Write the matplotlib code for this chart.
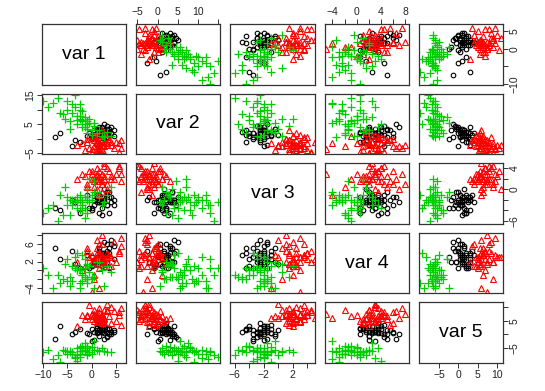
import numpy as np
import matplotlib
matplotlib.use("Agg")
import matplotlib.pyplot as plt

plt.rcParams['font.family'] = ['Liberation Sans', 'DejaVu Sans']

var_names = ['var 1', 'var 2', 'var 3', 'var 4', 'var 5']

# each row: var1, var2, var3, var4, var5
black_pts = [
    [1.5, 2.0, -2.0, 3.0, 1.0], [2.0, 1.0, -1.5, 2.5, 1.5], [2.5, 3.0, -2.5, 4.0, 0.5],
    [3.0, 2.5, -1.0, 3.5, 2.0], [0.5, 1.5, -3.0, 2.0, 1.0], [1.0, 0.5, -2.0, 1.5, 2.5],
    [3.5, 3.5, -0.5, 5.0, 0.0], [2.0, 2.0, -3.5, 3.0, 1.5], [1.5, 4.0, -2.5, 2.0, -0.5],
    [4.0, 2.0, -1.5, 6.0, 1.0], [2.5, 0.0, -2.0, 3.5, 3.0], [0.0, 1.0, -4.0, 1.0, 2.0],
    [3.0, 4.5, -3.0, 4.5, -1.0], [1.0, 2.5, -1.0, 2.5, 0.5], [2.0, -1.0, -2.5, 1.0, 2.5],
    [4.5, 3.0, -2.0, 5.5, 1.5], [-0.5, 2.0, -3.5, 0.5, 0.0], [3.5, 1.5, -4.5, 4.0, 2.0],
    [2.5, 5.0, -1.5, 6.5, -1.5], [1.0, 3.5, -2.5, 3.0, 1.0], [-6.5, 2.0, -4.0, 2.5, 3.0],
    [-2.5, -1.0, -4.5, 0.5, 2.0], [-3.5, -0.5, -2.5, 1.5, 1.0], [1.5, 1.5, -1.0, 4.5, 3.5],
    [0.5, 3.0, -2.0, 2.0, -2.0], [3.0, 0.5, -3.0, 6.0, 0.5], [2.0, 2.5, -5.0, 3.5, 1.0],
    [1.0, -2.0, -1.5, 2.0, 3.0], [4.0, 4.0, -2.5, 7.0, 0.0], [2.5, 1.5, 0.0, 1.5, 1.5],
    [0.0, 0.0, -3.5, 3.0, -2.5], [3.5, 2.5, -1.5, 0.5, 2.5], [1.5, 3.0, -4.5, 5.0, 1.5],
    [2.0, 4.0, -2.0, 4.0, 3.0], [-1.0, 1.0, -1.0, 3.5, 0.5], [4.5, 1.0, -3.0, 2.5, 1.0],
    [-7.5, 0.5, -3.5, 5.0, -1.5], [-4.0, -2.5, -2.0, 4.5, 0.0], [2.0, 2.0, -2.5, 3.5, 4.0],
    [3.0, 3.5, -0.5, 2.0, -0.5],
]

red_pts = [
    [1.0, -1.0, 2.0, 2.5, 8.0], [2.0, -2.0, 3.0, 3.0, 5.0], [0.5, -0.5, 1.5, 1.5, 7.5],
    [1.5, -3.0, 2.5, 4.0, 6.0], [3.0, -1.5, 1.0, 2.0, 9.0], [0.0, 0.5, 3.5, 3.5, 5.5],
    [2.5, -2.5, 2.0, 1.0, 4.5], [-1.0, -1.0, 0.5, 5.0, 6.5], [1.0, -4.0, 4.0, 2.5, 7.0],
    [4.0, -2.0, 2.5, 3.0, 10.0], [2.0, 0.0, 1.0, 6.0, 4.0], [-2.0, -1.5, 3.0, 0.0, 7.0],
    [1.5, -3.5, 1.5, 3.5, 9.5], [5.0, -1.0, 3.0, 2.0, 5.0], [0.5, 1.0, 2.0, -1.0, 6.5],
    [5.5, -4.5, 4.5, 4.5, 8.0], [1.0, -2.5, 0.0, 7.0, 6.0], [2.5, 2.0, 2.5, 1.5, 5.5],
    [-0.5, -3.0, 3.5, 3.0, 10.5], [6.0, -0.5, 1.5, 5.5, 3.5], [1.5, -1.5, -1.0, -4.0, 6.0],
    [0.0, -5.0, 2.0, 2.0, 7.5], [3.0, 0.5, 4.0, 4.0, 8.5], [2.0, -2.0, 1.0, 8.0, 7.5],
    [-1.5, -4.0, 2.5, 1.0, 5.5], [1.0, 1.5, 3.0, 3.0, 4.5], [4.5, -3.0, 2.0, 6.5, 8.5],
    [2.5, -1.0, 5.0, 2.5, 6.0], [0.5, -2.5, 0.5, -2.0, 9.0], [3.5, 0.0, 3.5, 3.5, 6.5],
    [1.5, -4.5, 1.5, 0.5, 5.0], [-3.0, -2.0, 2.0, 2.0, 3.0], [5.5, -1.5, 4.0, 4.0, 7.0],
    [2.0, 3.0, 1.5, 1.5, 6.0], [1.0, -0.5, 2.5, 5.0, 5.5], [0.0, -3.5, 3.0, -5.0, 7.5],
    [3.0, -2.0, 0.0, 3.0, 11.0], [2.5, -5.0, 4.5, 2.0, 9.0], [-1.0, 0.0, 1.0, 4.5, 7.0],
    [4.0, -1.0, 2.0, 1.0, 4.0], [1.5, -2.5, 3.5, 6.0, 8.0], [0.5, 1.0, 2.0, 2.5, 5.0],
    [2.0, -4.0, -0.5, 3.5, 6.5], [6.0, -3.0, 3.0, 7.5, 9.5], [1.0, -1.5, 1.5, 4.0, 6.5],
]

green_pts = [
    [-2.0, 6.0, -2.0, -1.0, -6.0], [-3.0, 8.0, -2.5, 0.0, -5.0], [-1.0, 5.0, -1.5, -2.0, -7.0],
    [-4.0, 9.0, -3.0, 1.0, -6.5], [0.0, 3.0, -1.0, -1.5, -4.5], [-2.5, 7.0, -2.0, -3.0, -8.0],
    [-1.5, 4.0, -3.5, 0.5, -6.0], [-5.0, 10.0, -1.5, -2.5, -7.0], [1.0, 2.0, -0.5, 2.0, -5.5],
    [-2.0, 6.5, -4.0, -1.0, -4.0], [-3.5, 11.0, -2.0, 3.0, -8.5], [-0.5, 5.5, -2.5, -0.5, -6.5],
    [-6.0, 8.5, -5.0, -2.0, -5.5], [-1.0, 3.5, 0.0, 1.5, -7.5], [-2.5, 12.0, -1.0, -4.0, -6.0],
    [2.0, 1.0, -3.0, 0.0, -5.0], [-4.5, 6.0, -2.0, -3.5, -6.5], [-1.5, 7.5, -1.5, 2.5, -3.0],
    [-10.0, 13.0, -4.5, 0.5, -6.5], [0.5, 4.5, 1.5, -1.5, -5.5], [-3.0, 5.0, -3.5, 4.0, -9.5],
    [-2.0, 9.5, -2.5, -2.5, -6.0], [3.0, 2.5, -1.0, 1.0, -6.5], [-7.0, 14.0, -6.0, -1.0, -7.5],
    [-1.0, 6.0, -2.0, -3.0, -5.0], [-5.5, 7.0, 0.5, 1.5, -6.0], [0.0, 1.5, -2.0, -2.0, -7.0],
    [-2.5, 8.0, -4.0, 0.0, -4.5], [-8.0, 12.5, -3.0, -4.0, -9.0], [1.5, 3.0, -1.5, 2.0, -6.0],
    [-1.5, 5.0, -5.5, -1.5, -5.5], [-3.5, 15.0, -2.5, 0.5, -8.0], [4.0, 1.0, 0.5, -0.5, -6.5],
    [-6.5, 9.0, -1.0, -3.0, -10.0], [-2.0, 4.0, -3.0, 3.5, -5.0], [-4.0, 12.0, -2.0, -2.5, -7.0],
    [-0.5, 7.0, 2.0, 1.0, -6.5], [-9.0, 11.0, -3.5, -1.0, -5.5], [2.5, 0.5, -2.5, -3.5, -6.0],
    [-3.0, 6.5, -1.5, 0.0, -7.5], [-1.0, 2.0, -4.5, -2.0, -4.0], [-5.0, 13.0, -3.0, 2.5, -6.0],
    [0.5, 5.5, -0.5, -4.0, -2.5], [-2.5, 10.0, -2.0, 0.5, -7.0], [-4.5, 3.5, -5.0, -1.5, -6.0],
]

# axis limits, ticks and which tick labels are printed (x side / y side)
var_lims = [(-10.2, 7.0), (-5.3, 15.6), (-6.6, 5.0), (-5.3, 8.6), (-10.3, 11.6)]
var_ticks = [[-10, -5, 0, 5], [-5, 0, 5, 10, 15], [-6, -4, -2, 0, 2, 4],
             [-4, -2, 0, 2, 4, 6, 8], [-5, 0, 5, 10]]
x_labels = [[-10, -5, 0, 5], [-5, 0, 5, 10], [-6, -2, 2], [-4, 0, 4, 8], [-5, 0, 5, 10]]
y_labels = [[-10, 0, 5], [-5, 5, 15], [-6, 0, 4], [-4, 2, 6], [-5, 5]]

groups = [
    (np.array(black_pts), dict(marker='o', ms=3.3, mfc='none', mec='black', mew=0.8)),
    (np.array(red_pts), dict(marker='^', ms=3.8, mfc='none', mec='#FF0000', mew=0.8)),
    (np.array(green_pts), dict(marker='+', ms=5.5, mec='#00CD00', mew=0.9)),
]

fig, axes = plt.subplots(5, 5, figsize=(5.45, 3.91), dpi=100)
plt.subplots_adjust(left=42/545, right=503/545, top=1-24/391, bottom=1-363/391,
                    wspace=10/84, hspace=9/61)

def lbl(v, shown):
    return str(v).replace('-', '\u2212') if v in shown else ''

for i in range(5):
    for j in range(5):
        ax = axes[i, j]
        ax.set_xlim(var_lims[j])
        ax.set_ylim(var_lims[i])
        for s in ax.spines.values():
            s.set_color('#333333')
            s.set_linewidth(0.9)
        if i == j:
            ax.text(0.5, 0.5, var_names[i], transform=ax.transAxes,
                    ha='center', va='center', fontsize=14)
        else:
            for pts, st in groups:
                ax.plot(pts[:, j], pts[:, i], ls='none', **st)
        ax.tick_params(which='both', direction='out', length=3.5, width=0.7,
                       labelsize=7.5, pad=1.5, colors='#333333', labelcolor='#222222',
                       bottom=False, top=False, left=False, right=False,
                       labelbottom=False, labeltop=False, labelleft=False, labelright=False)
        # x axis: bottom row for odd vars, top row for even vars (R pairs layout)
        if i == 4 and j % 2 == 0:
            ax.set_xticks(var_ticks[j])
            ax.set_xticklabels([lbl(v, x_labels[j]) for v in var_ticks[j]])
            ax.tick_params(axis='x', bottom=True, labelbottom=True)
        elif i == 0 and j % 2 == 1:
            ax.set_xticks(var_ticks[j])
            ax.set_xticklabels([lbl(v, x_labels[j]) for v in var_ticks[j]])
            ax.tick_params(axis='x', top=True, labeltop=True)
        else:
            ax.set_xticks([])
        if j == 0 and i % 2 == 1:
            ax.set_yticks(var_ticks[i])
            ax.set_yticklabels([lbl(v, y_labels[i]) for v in var_ticks[i]],
                               rotation=90, va='center')
            ax.tick_params(axis='y', left=True, labelleft=True)
        elif j == 4 and i % 2 == 0:
            ax.set_yticks(var_ticks[i])
            ax.set_yticklabels([lbl(v, y_labels[i]) for v in var_ticks[i]],
                               rotation=90, va='center')
            ax.tick_params(axis='y', right=True, labelright=True)
        else:
            ax.set_yticks([])

fig.savefig('out.png', dpi=100)
